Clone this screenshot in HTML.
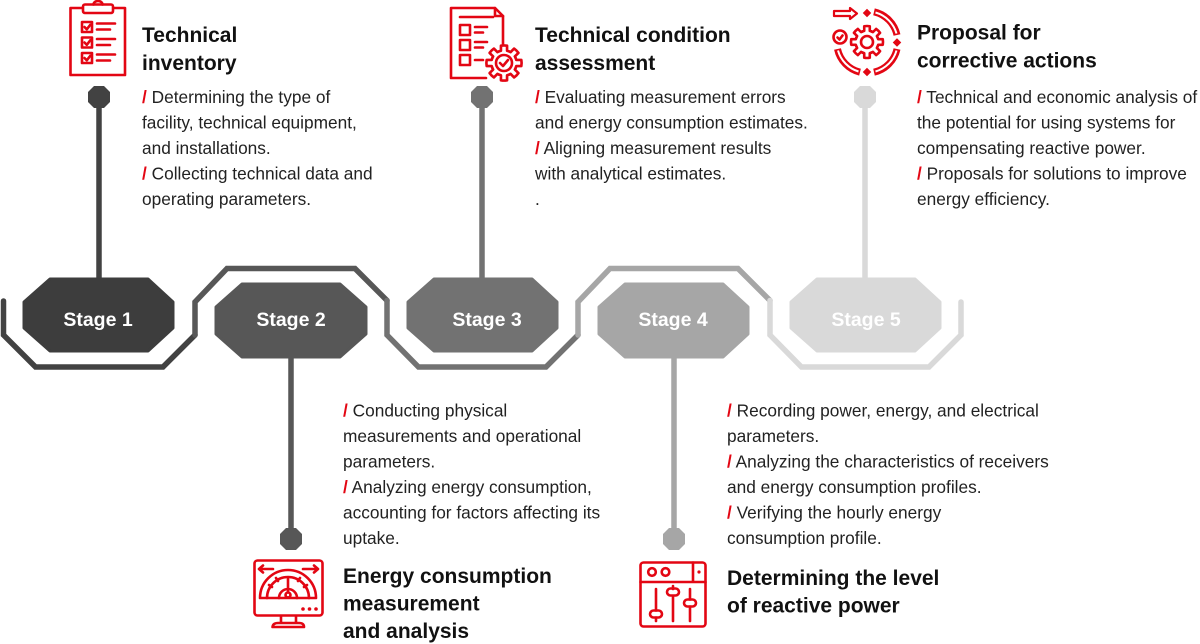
<!DOCTYPE html>
<html>
<head>
<meta charset="utf-8">
<style>
html,body{margin:0;padding:0;background:#fff;}
svg{display:block;}
.t{font-family:"Liberation Sans",Arial,sans-serif;font-weight:bold;font-size:21px;fill:#111;}
.b{font-family:"Liberation Sans",Arial,sans-serif;font-size:17.3px;fill:#222;}
.s{fill:#e30613;font-weight:bold;}
.st{font-family:"Liberation Sans",Arial,sans-serif;font-weight:bold;font-size:19.5px;fill:#fff;text-anchor:middle;}
.ic{stroke:#e30613;stroke-width:2.6;fill:none;stroke-linecap:round;stroke-linejoin:round;}
</style>
</head>
<body>
<svg width="1200" height="644" viewBox="0 0 1200 644" xmlns="http://www.w3.org/2000/svg">
<defs>
<path id="tooth" d="M-4.40,-10.62 A11.5,11.5 0 0 1 -2.78,-11.16 L-2.78,-15.76 A16,16 0 0 1 2.78,-15.76 L2.78,-11.16 A11.5,11.5 0 0 1 4.40,-10.62"/>
</defs>
<rect width="1200" height="644" fill="#fff"/>

<!-- connector lines -->
<g stroke-width="5.5" fill="none">
<line x1="99" y1="97" x2="99" y2="280" stroke="#424242"/>
<line x1="291" y1="356" x2="291" y2="539" stroke="#575757"/>
<line x1="482" y1="97" x2="482" y2="280" stroke="#727272"/>
<line x1="674" y1="356" x2="674" y2="539" stroke="#a6a6a6"/>
<line x1="865" y1="97" x2="865" y2="280" stroke="#d9d9d9"/>
</g>
<!-- nodes -->
<polygon points="94,86 104,86 110,92 110,102 104,108 94,108 88,102 88,92" fill="#424242"/>
<polygon points="477,86 487,86 493,92 493,102 487,108 477,108 471,102 471,92" fill="#727272"/>
<polygon points="860,86 870,86 876,92 876,102 870,108 860,108 854,102 854,92" fill="#d9d9d9"/>
<polygon points="286,528 296,528 302,534 302,544 296,550 286,550 280,544 280,534" fill="#575757"/>
<polygon points="669,528 679,528 685,534 685,544 679,550 669,550 663,544 663,534" fill="#a6a6a6"/>

<!-- outline band -->
<g fill="none" stroke-width="5.5" stroke-linecap="round" stroke-linejoin="miter">
<path d="M3.5,301 V335 L35.5,367 H163 L195,335" stroke="#424242"/>
<path d="M195,335 V302 L227,268.5 H355 L387,300.5" stroke="#575757"/>
<path d="M387,300.5 V335 L418.5,367 H546 L578,335" stroke="#727272"/>
<path d="M578,335 V302 L610,268.5 H738 L770,300.5" stroke="#a6a6a6"/>
<path d="M770,300.5 V335 L801.5,367 H929 L961,335 V302" stroke="#d9d9d9"/>
</g>

<!-- stage octagons -->
<g stroke-width="3" stroke-linejoin="round">
<polygon points="50,279 148,279 173,302 173,328 148,351 50,351 24,328 24,302" fill="#3d3d3d" stroke="#3d3d3d"/>
<polygon points="242,284 340,284 366,307 366,334 340,357 242,357 216,334 216,307" fill="#575757" stroke="#575757"/>
<polygon points="434,279 532,279 557,302 557,328 532,351 434,351 408,328 408,302" fill="#727272" stroke="#727272"/>
<polygon points="625,284 723,284 748,307 748,334 723,357 625,357 599,334 599,307" fill="#a6a6a6" stroke="#a6a6a6"/>
<polygon points="817,279 915,279 940,302 940,328 915,351 817,351 791,328 791,302" fill="#d9d9d9" stroke="#d9d9d9"/>
</g>
<text class="st" x="98" y="326">Stage 1</text>
<text class="st" x="291" y="326">Stage 2</text>
<text class="st" x="487" y="326">Stage 3</text>
<text class="st" x="673" y="326">Stage 4</text>
<text class="st" x="866" y="326">Stage 5</text>

<!-- Icon 1: clipboard -->
<g class="ic">
<rect x="70.5" y="8" width="54.5" height="67"/>
<rect x="83" y="4.5" width="30" height="8.5" rx="2" fill="#fff"/>
<path d="M93.5,4.5 a4.5,3.5 0 0 1 9,0"/>
<rect x="82" y="22" width="10" height="10"/>
<rect x="82" y="37.5" width="10" height="10"/>
<rect x="82" y="53" width="10" height="10"/>
<path d="M84.5,27 l2.3,2.3 l3.5,-4.5 M84.5,42.5 l2.3,2.3 l3.5,-4.5 M84.5,58 l2.3,2.3 l3.5,-4.5"/>
<path d="M97,23.5 H115 M97,29.5 H110 M97,39 H115 M97,45 H110 M97,54.5 H115 M97,60.5 H110"/>
</g>

<!-- Icon 3: document with gear -->
<g class="ic">
<path d="M486,78 H451 V8 H495 L503,16 V44"/>
<path d="M495,8 V16 H503"/>
<path d="M460,17 H493"/>
<rect x="460" y="25" width="10" height="10"/>
<rect x="460" y="40" width="10" height="10"/>
<rect x="460" y="55" width="10" height="10"/>
<path d="M475,27 H487 M475,32.5 H483 M475,42 H487 M475,47.5 H483 M475,60 H483"/>
<g transform="translate(504,63) scale(1.1)" stroke-width="2.4">
<g><use href="#tooth"/></g>
<g transform="rotate(45)"><use href="#tooth"/></g>
<g transform="rotate(90)"><use href="#tooth"/></g>
<g transform="rotate(135)"><use href="#tooth"/></g>
<g transform="rotate(180)"><use href="#tooth"/></g>
<g transform="rotate(225)"><use href="#tooth"/></g>
<g transform="rotate(270)"><use href="#tooth"/></g>
<g transform="rotate(315)"><use href="#tooth"/></g>
</g>
<circle cx="504" cy="63" r="8"/>
<path d="M500,63 l3,3 l5,-6"/>
</g>

<!-- Icon 5: cycle with gear -->
<g fill="none">
<g stroke="#e30613" stroke-width="7" stroke-linecap="butt">
<path d="M874,11.8 A30.5,30.5 0 0 1 897,35"/>
<path d="M897,49 A30.5,30.5 0 0 1 874,72.2"/>
<path d="M860,72.2 A30.5,30.5 0 0 1 837.5,49"/>
</g>
<g stroke="#fff" stroke-width="2" stroke-linecap="butt">
<path d="M875.5,12.5 A30.5,30.5 0 0 1 896.5,33.5"/>
<path d="M896.5,50.5 A30.5,30.5 0 0 1 875.5,71.5"/>
<path d="M858.5,71.5 A30.5,30.5 0 0 1 838,50.5"/>
</g>
<path d="M834,11 H850 V8 L857,13.5 L850,19 V16 H834 Z" stroke="#e30613" stroke-width="2.2" stroke-linejoin="round"/>
<g class="ic" stroke-width="2.4">
<g transform="translate(867,42)">
<g><use href="#tooth"/></g>
<g transform="rotate(45)"><use href="#tooth"/></g>
<g transform="rotate(90)"><use href="#tooth"/></g>
<g transform="rotate(135)"><use href="#tooth"/></g>
<g transform="rotate(180)"><use href="#tooth"/></g>
<g transform="rotate(225)"><use href="#tooth"/></g>
<g transform="rotate(270)"><use href="#tooth"/></g>
<g transform="rotate(315)"><use href="#tooth"/></g>
</g>
<circle cx="867" cy="42" r="6"/>
<circle cx="840" cy="37" r="6.5"/>
<path d="M837.5,37.5 l2,2 l3,-4"/>
</g>
<g fill="#e30613">
<rect x="864" y="10" width="6" height="6" transform="rotate(45 867 13)"/>
<rect x="894" y="39.5" width="6" height="6" transform="rotate(45 897 42.5)"/>
<rect x="864" y="69" width="6" height="6" transform="rotate(45 867 72)"/>
</g>
</g>

<!-- Icon 2: monitor gauge -->
<g class="ic">
<rect x="254.5" y="560.5" width="68" height="55" rx="3"/>
<path d="M281,616 V623 M296,616 V623 M272.5,627 Q273,623 278,623 H299 Q304,623 304,627 Z"/>
<path d="M260,598 A28,28 0 0 1 316,598 Z"/>
<path d="M267,598 A21,21 0 0 1 309,598"/>
<path d="M279,598 A9,9 0 0 1 297,598"/>
<circle cx="288" cy="595" r="2.5"/>
<path d="M288,592 V579"/>
<path d="M269,585 l3,2 M276,578 l2,3 M300,578 l-2,3 M307,585 l-3,2"/>
<path d="M259,569 H273 M263,565.5 L259,569 L263,572.5 M303,569 H318 M314,565.5 L318,569 L314,572.5"/>
</g>
<g fill="#e30613">
<circle cx="303" cy="609" r="1.8"/>
<circle cx="309.5" cy="609" r="1.8"/>
<circle cx="316" cy="609" r="1.8"/>
</g>

<!-- Icon 4: window with sliders -->
<g class="ic">
<rect x="640.5" y="562.5" width="65" height="64" rx="3"/>
<path d="M640.5,582 H705.5 M693,562.5 V582"/>
<circle cx="652" cy="572" r="3.8"/>
<circle cx="665.5" cy="572" r="3.8"/>
<path d="M656,589 V610.5 M656,617.5 V621 M673,589 V589 M673,596 V621 M690,589 V599.5 M690,606.5 V621"/>
<path d="M673,586 V588.5"/>
<rect x="650" y="610.5" width="12" height="7" rx="3.5"/>
<rect x="667" y="588.5" width="12" height="7" rx="3.5"/>
<rect x="684" y="599.5" width="12" height="7" rx="3.5"/>
</g>
<circle cx="699" cy="572" r="1.6" fill="#e30613"/>

<!-- Titles -->
<text class="t" x="142" y="42">Technical</text>
<text class="t" x="142" y="70">inventory</text>
<text class="t" x="535" y="42">Technical condition</text>
<text class="t" x="535" y="70">assessment</text>
<text class="t" x="917" y="39.5">Proposal for</text>
<text class="t" x="917" y="67.5">corrective actions</text>
<text class="t" x="343" y="583">Energy consumption</text>
<text class="t" x="343" y="610.5">measurement</text>
<text class="t" x="343" y="638">and analysis</text>
<text class="t" x="727" y="585">Determining the level</text>
<text class="t" x="727" y="612.5">of reactive power</text>

<!-- Body texts -->
<text class="b" x="142" y="103"><tspan class="s">/</tspan> Determining the type of</text>
<text class="b" x="142" y="128.5">facility, technical equipment,</text>
<text class="b" x="142" y="154">and installations.</text>
<text class="b" x="142" y="179.5"><tspan class="s">/</tspan> Collecting technical data and</text>
<text class="b" x="142" y="205">operating parameters.</text>

<text class="b" x="535" y="103"><tspan class="s">/</tspan> Evaluating measurement errors</text>
<text class="b" x="535" y="128.5">and energy consumption estimates.</text>
<text class="b" x="535" y="154"><tspan class="s">/</tspan> Aligning measurement results</text>
<text class="b" x="535" y="179.5">with analytical estimates.</text>
<text class="b" x="535" y="205">.</text>

<text class="b" x="917" y="103"><tspan class="s">/</tspan> Technical and economic analysis of</text>
<text class="b" x="917" y="128.5">the potential for using systems for</text>
<text class="b" x="917" y="154">compensating reactive power.</text>
<text class="b" x="917" y="179.5"><tspan class="s">/</tspan> Proposals for solutions to improve</text>
<text class="b" x="917" y="205">energy efficiency.</text>

<text class="b" x="343" y="416.5"><tspan class="s">/</tspan> Conducting physical</text>
<text class="b" x="343" y="442">measurements and operational</text>
<text class="b" x="343" y="467.5">parameters.</text>
<text class="b" x="343" y="493"><tspan class="s">/</tspan> Analyzing energy consumption,</text>
<text class="b" x="343" y="518.5">accounting for factors affecting its</text>
<text class="b" x="343" y="544">uptake.</text>

<text class="b" x="727" y="416.5"><tspan class="s">/</tspan> Recording power, energy, and electrical</text>
<text class="b" x="727" y="442">parameters.</text>
<text class="b" x="727" y="467.5"><tspan class="s">/</tspan> Analyzing the characteristics of receivers</text>
<text class="b" x="727" y="493">and energy consumption profiles.</text>
<text class="b" x="727" y="518.5"><tspan class="s">/</tspan> Verifying the hourly energy</text>
<text class="b" x="727" y="544">consumption profile.</text>
</svg>
</body>
</html>
